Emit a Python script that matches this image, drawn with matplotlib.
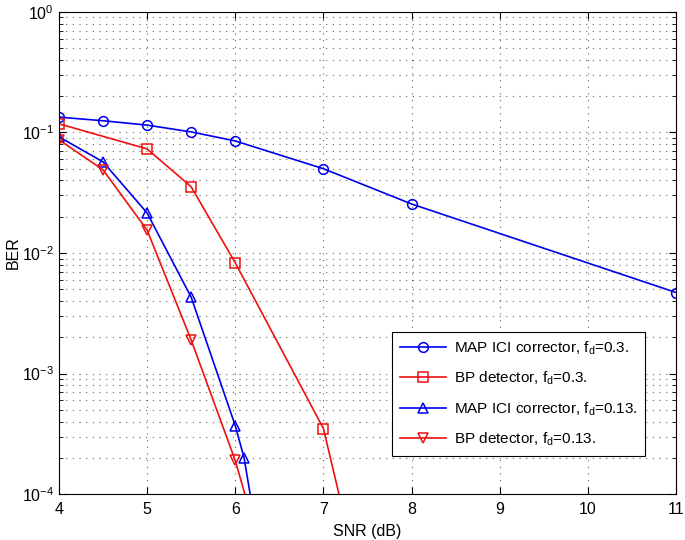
import matplotlib
matplotlib.use("Agg")
import matplotlib.pyplot as plt
from matplotlib.ticker import LogLocator, NullFormatter

plt.rcParams['font.family'] = ['Liberation Sans', 'DejaVu Sans']
plt.rcParams['mathtext.fontset'] = 'custom'
plt.rcParams['mathtext.rm'] = 'Liberation Sans'
plt.rcParams['mathtext.it'] = 'Liberation Sans'

snr_map03 = [4, 4.5, 5, 5.5, 6, 7, 8, 11]
ber_map03 = [0.134, 0.125, 0.115, 0.101, 0.085, 0.050, 0.0255, 0.0047]

snr_bp03 = [4, 5, 5.5, 6, 7, 7.5]
ber_bp03 = [0.118, 0.073, 0.0354, 0.0083, 3.5e-4, 1.0e-5]

snr_map013 = [4, 4.5, 5, 5.5, 6, 6.1, 6.3]
ber_map013 = [0.092, 0.057, 0.0215, 0.0043, 3.7e-4, 2.0e-4, 2.7e-5]

snr_bp013 = [4, 4.5, 5, 5.5, 6, 6.5]
ber_bp013 = [0.087, 0.049, 0.0155, 0.0019, 1.9e-4, 1.0e-5]

labels = ['MAP ICI corrector, f$_\\mathregular{d}$=0.3.',
          'BP detector, f$_\\mathregular{d}$=0.3.',
          'MAP ICI corrector, f$_\\mathregular{d}$=0.13.',
          'BP detector, f$_\\mathregular{d}$=0.13.']

fig = plt.figure(figsize=(6.85, 5.4), dpi=100)
ax = fig.add_axes([0.086, 0.085, 0.901, 0.893])

blue = '#0000ee'
red = '#ee1111'
kw = dict(linewidth=1.2, markersize=7, markerfacecolor='none', markeredgewidth=1.1)
ax.plot(snr_map03, ber_map03, '-o', color=blue, label=labels[0], **kw)
ax.plot(snr_bp03, ber_bp03, '-s', color=red, label=labels[1], **kw)
ax.plot(snr_map013, ber_map013, '-^', color=blue, label=labels[2], **kw)
ax.plot(snr_bp013, ber_bp013, '-v', color=red, label=labels[3], **kw)

ax.set_yscale('log')
ax.set_xlim(4, 11)
ax.set_ylim(1e-4, 1)
ax.set_xticks(range(4, 12))
ax.yaxis.set_major_locator(LogLocator(base=10, numticks=10))
ax.yaxis.set_minor_locator(LogLocator(base=10, subs=range(2, 10), numticks=10))
ax.yaxis.set_minor_formatter(NullFormatter())

gkw = dict(linestyle=(0, (1, 5)), color='#666666', linewidth=0.8)
ax.grid(True, which='major', **gkw)
ax.grid(True, which='minor', axis='y', **gkw)

ax.tick_params(which='both', direction='in', top=True, right=True, labelsize=11.5)
ax.tick_params(which='major', length=5, width=0.8)
ax.tick_params(which='minor', length=3, width=0.6)
ax.tick_params(axis='x', pad=6)

ax.set_xlabel('SNR (dB)', fontsize=11.5, labelpad=5)
ax.set_ylabel('BER', fontsize=11.5)
ax.yaxis.set_label_coords(-0.062, 0.5)

leg = ax.legend(loc='lower left', bbox_to_anchor=(0.528, 0.064), fontsize=11,
                fancybox=False, edgecolor='black', framealpha=1,
                handlelength=3.0, labelspacing=0.85, borderpad=0.5,
                handletextpad=0.5)
leg.get_frame().set_linewidth(0.8)

fig.savefig('out.png', dpi=100)
